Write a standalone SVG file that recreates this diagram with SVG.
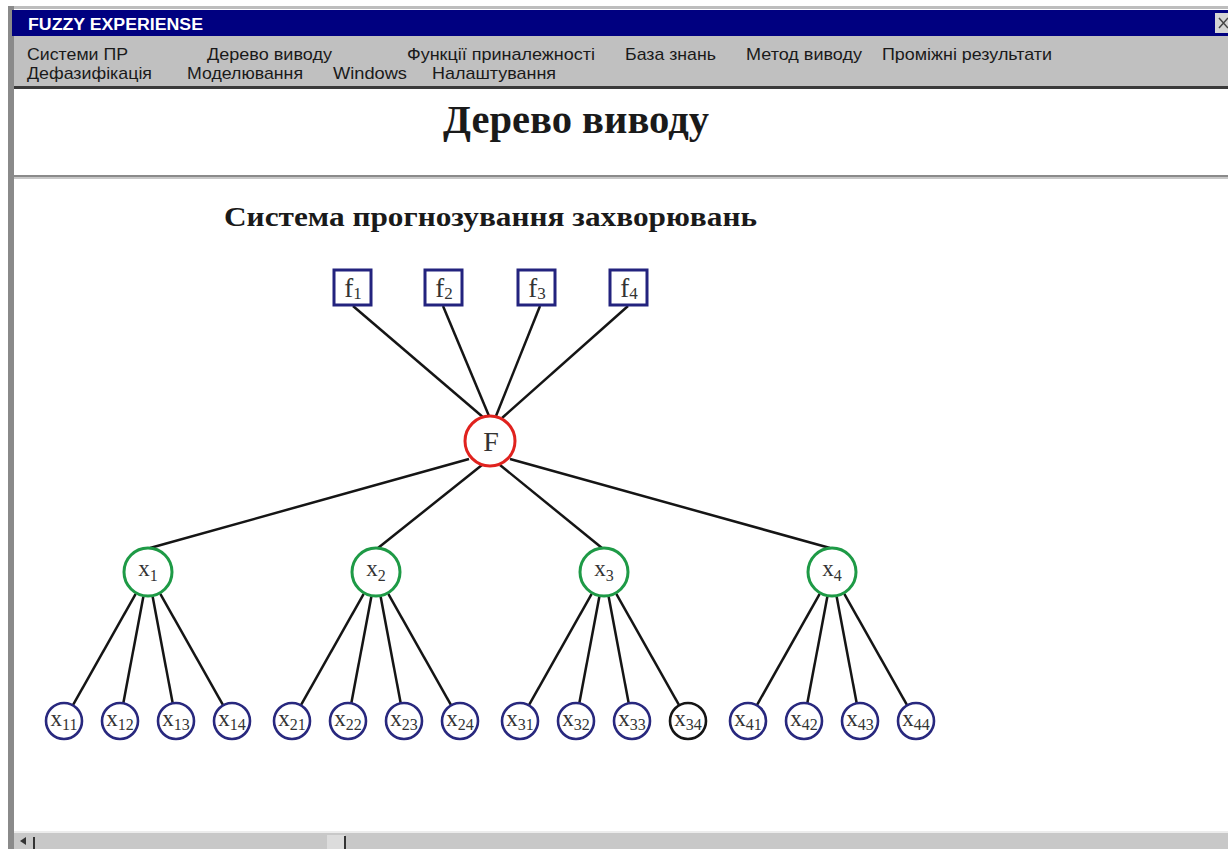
<svg xmlns="http://www.w3.org/2000/svg" width="1228" height="849" viewBox="0 0 1228 849">
<style>
.menu{font-family:"Liberation Sans",Arial,sans-serif;font-size:17px;fill:#1a1a1a}
.ser{font-family:"Liberation Serif","Times New Roman",serif;fill:#1a1a1a}
.box{fill:#fff;stroke:#23237e;stroke-width:3}
.red{fill:#fff;stroke:#e0221e;stroke-width:3}
.grn{fill:#fff;stroke:#1e9a46;stroke-width:3}
.leaf{fill:#fff;stroke:#28287e;stroke-width:2.6}
.leafk{fill:#fff;stroke:#151515;stroke-width:2.6}
.edge line{stroke:#151515;stroke-width:2.5}
.lbl{font-family:"Liberation Serif","Times New Roman",serif;fill:#333;text-anchor:middle}
</style>
<rect width="1228" height="849" fill="#fff"/>
<!-- window frame -->
<rect x="8" y="6" width="1220" height="3" fill="#bdbdbd"/>
<rect x="8" y="6" width="6" height="843" fill="#8a8a8a"/>
<rect x="12" y="10" width="1216" height="26" fill="#000080"/>
<text x="28" y="30" font-family="Liberation Sans,Arial,sans-serif" font-size="16" font-weight="bold" fill="#fff" textLength="175" lengthAdjust="spacingAndGlyphs">FUZZY EXPERIENSE</text>
<rect x="1215" y="13" width="13" height="20" fill="#d4d4d4"/>
<path d="M1219 18 L1228 28 M1228 18 L1219 28" stroke="#444" stroke-width="1.5"/>
<rect x="14" y="36" width="1214" height="51" fill="#c0c0c0"/>
<rect x="14" y="86" width="1214" height="3" fill="#3a3a3a"/>
<g class="menu">
<text x="27" y="60" textLength="101" lengthAdjust="spacingAndGlyphs">Системи ПР</text>
<text x="207" y="60" textLength="125" lengthAdjust="spacingAndGlyphs">Дерево виводу</text>
<text x="407" y="60" textLength="188" lengthAdjust="spacingAndGlyphs">Функції приналежності</text>
<text x="625" y="60" textLength="91" lengthAdjust="spacingAndGlyphs">База знань</text>
<text x="746" y="60" textLength="116" lengthAdjust="spacingAndGlyphs">Метод виводу</text>
<text x="882" y="60" textLength="170" lengthAdjust="spacingAndGlyphs">Проміжні результати</text>
<text x="27" y="79" textLength="125" lengthAdjust="spacingAndGlyphs">Дефазифікація</text>
<text x="187" y="79" textLength="116" lengthAdjust="spacingAndGlyphs">Моделювання</text>
<text x="333" y="79" textLength="74" lengthAdjust="spacingAndGlyphs">Windows</text>
<text x="432" y="79" textLength="124" lengthAdjust="spacingAndGlyphs">Налаштування</text>
</g>
<text x="443" y="133" class="ser" font-size="39" font-weight="bold" fill="#111" textLength="266" lengthAdjust="spacingAndGlyphs">Дерево виводу</text>
<rect x="14" y="175" width="1214" height="2" fill="#8a8a8a"/>
<rect x="14" y="177" width="1214" height="2" fill="#c8c8c8"/>
<text x="224" y="226" class="ser" font-size="27" font-weight="bold" fill="#111" textLength="533" lengthAdjust="spacingAndGlyphs">Система прогнозування захворювань</text>
<!-- scrollbar -->
<rect x="14" y="831" width="1214" height="2" fill="#ececec"/>
<rect x="14" y="833" width="1214" height="16" fill="#c8c8c8"/>
<path d="M20 841 L26 837 L26 845 Z" fill="#333"/>
<rect x="33" y="837" width="2" height="12" fill="#333"/>
<rect x="327" y="835" width="18" height="14" fill="#dcdcdc"/>
<rect x="344" y="836" width="2" height="13" fill="#333"/>
<!-- connectors -->
<g id="connectors" class="edge">
<line x1="353" y1="306" x2="484" y2="418"/>
<line x1="443" y1="306" x2="489" y2="416"/>
<line x1="540" y1="306" x2="496" y2="416"/>
<line x1="628" y1="306" x2="502" y2="418"/>
<line x1="469" y1="459" x2="150" y2="548"/>
<line x1="482" y1="465" x2="378" y2="548"/>
<line x1="500" y1="465" x2="602" y2="548"/>
<line x1="510" y1="459" x2="830" y2="548"/>
<line x1="135.7" y1="593.8" x2="72.8" y2="705.3"/>
<line x1="143.4" y1="596.6" x2="123.3" y2="703.3"/>
<line x1="152.6" y1="596.6" x2="172.7" y2="703.3"/>
<line x1="160.3" y1="593.8" x2="223.2" y2="705.3"/>
<line x1="363.7" y1="593.8" x2="300.8" y2="705.3"/>
<line x1="371.4" y1="596.6" x2="351.3" y2="703.3"/>
<line x1="380.6" y1="596.6" x2="400.7" y2="703.3"/>
<line x1="388.3" y1="593.8" x2="451.2" y2="705.3"/>
<line x1="591.7" y1="593.8" x2="528.8" y2="705.3"/>
<line x1="599.4" y1="596.6" x2="579.3" y2="703.3"/>
<line x1="608.6" y1="596.6" x2="628.7" y2="703.3"/>
<line x1="616.3" y1="593.8" x2="679.2" y2="705.3"/>
<line x1="819.7" y1="593.8" x2="756.8" y2="705.3"/>
<line x1="827.4" y1="596.6" x2="807.3" y2="703.3"/>
<line x1="836.6" y1="596.6" x2="856.7" y2="703.3"/>
<line x1="844.3" y1="593.8" x2="907.2" y2="705.3"/>
</g>
<!-- f nodes -->
<g id="f1"><rect class="box" x="334" y="270" width="37" height="35"/><text class="lbl" x="353" y="297" font-size="27">f<tspan font-size="17" dy="2">1</tspan></text></g>
<g id="f2"><rect class="box" x="425" y="270" width="37" height="35"/><text class="lbl" x="444" y="297" font-size="27">f<tspan font-size="17" dy="2">2</tspan></text></g>
<g id="f3"><rect class="box" x="518" y="270" width="37" height="35"/><text class="lbl" x="537" y="297" font-size="27">f<tspan font-size="17" dy="2">3</tspan></text></g>
<g id="f4"><rect class="box" x="610" y="270" width="37" height="35"/><text class="lbl" x="629" y="297" font-size="27">f<tspan font-size="17" dy="2">4</tspan></text></g>
<!-- F -->
<g id="F"><circle class="red" cx="490" cy="441" r="25"/><text class="lbl" x="491" y="451" font-size="28">F</text></g>
<!-- x level -->
<g id="x1"><circle class="grn" cx="148" cy="572" r="24"/><text class="lbl" x="148" y="576" font-size="23">x<tspan font-size="16" dy="5">1</tspan></text></g>
<g id="x2"><circle class="grn" cx="376" cy="572" r="24"/><text class="lbl" x="376" y="576" font-size="23">x<tspan font-size="16" dy="5">2</tspan></text></g>
<g id="x3"><circle class="grn" cx="604" cy="572" r="24"/><text class="lbl" x="604" y="576" font-size="23">x<tspan font-size="16" dy="5">3</tspan></text></g>
<g id="x4"><circle class="grn" cx="832" cy="572" r="24"/><text class="lbl" x="832" y="576" font-size="23">x<tspan font-size="16" dy="5">4</tspan></text></g>
<!-- leaves -->
<g id="x11"><circle class="leaf" cx="64" cy="721" r="18"/><text class="lbl" x="64" y="726" font-size="23">x<tspan font-size="16" dy="4">11</tspan></text></g>
<g id="x12"><circle class="leaf" cx="120" cy="721" r="18"/><text class="lbl" x="120" y="726" font-size="23">x<tspan font-size="16" dy="4">12</tspan></text></g>
<g id="x13"><circle class="leaf" cx="176" cy="721" r="18"/><text class="lbl" x="176" y="726" font-size="23">x<tspan font-size="16" dy="4">13</tspan></text></g>
<g id="x14"><circle class="leaf" cx="232" cy="721" r="18"/><text class="lbl" x="232" y="726" font-size="23">x<tspan font-size="16" dy="4">14</tspan></text></g>
<g id="x21"><circle class="leaf" cx="292" cy="721" r="18"/><text class="lbl" x="292" y="726" font-size="23">x<tspan font-size="16" dy="4">21</tspan></text></g>
<g id="x22"><circle class="leaf" cx="348" cy="721" r="18"/><text class="lbl" x="348" y="726" font-size="23">x<tspan font-size="16" dy="4">22</tspan></text></g>
<g id="x23"><circle class="leaf" cx="404" cy="721" r="18"/><text class="lbl" x="404" y="726" font-size="23">x<tspan font-size="16" dy="4">23</tspan></text></g>
<g id="x24"><circle class="leaf" cx="460" cy="721" r="18"/><text class="lbl" x="460" y="726" font-size="23">x<tspan font-size="16" dy="4">24</tspan></text></g>
<g id="x31"><circle class="leaf" cx="520" cy="721" r="18"/><text class="lbl" x="520" y="726" font-size="23">x<tspan font-size="16" dy="4">31</tspan></text></g>
<g id="x32"><circle class="leaf" cx="576" cy="721" r="18"/><text class="lbl" x="576" y="726" font-size="23">x<tspan font-size="16" dy="4">32</tspan></text></g>
<g id="x33"><circle class="leaf" cx="632" cy="721" r="18"/><text class="lbl" x="632" y="726" font-size="23">x<tspan font-size="16" dy="4">33</tspan></text></g>
<g id="x34"><circle class="leafk" cx="688" cy="721" r="18"/><text class="lbl" x="688" y="726" font-size="23">x<tspan font-size="16" dy="4">34</tspan></text></g>
<g id="x41"><circle class="leaf" cx="748" cy="721" r="18"/><text class="lbl" x="748" y="726" font-size="23">x<tspan font-size="16" dy="4">41</tspan></text></g>
<g id="x42"><circle class="leaf" cx="804" cy="721" r="18"/><text class="lbl" x="804" y="726" font-size="23">x<tspan font-size="16" dy="4">42</tspan></text></g>
<g id="x43"><circle class="leaf" cx="860" cy="721" r="18"/><text class="lbl" x="860" y="726" font-size="23">x<tspan font-size="16" dy="4">43</tspan></text></g>
<g id="x44"><circle class="leaf" cx="916" cy="721" r="18"/><text class="lbl" x="916" y="726" font-size="23">x<tspan font-size="16" dy="4">44</tspan></text></g>
</svg>
